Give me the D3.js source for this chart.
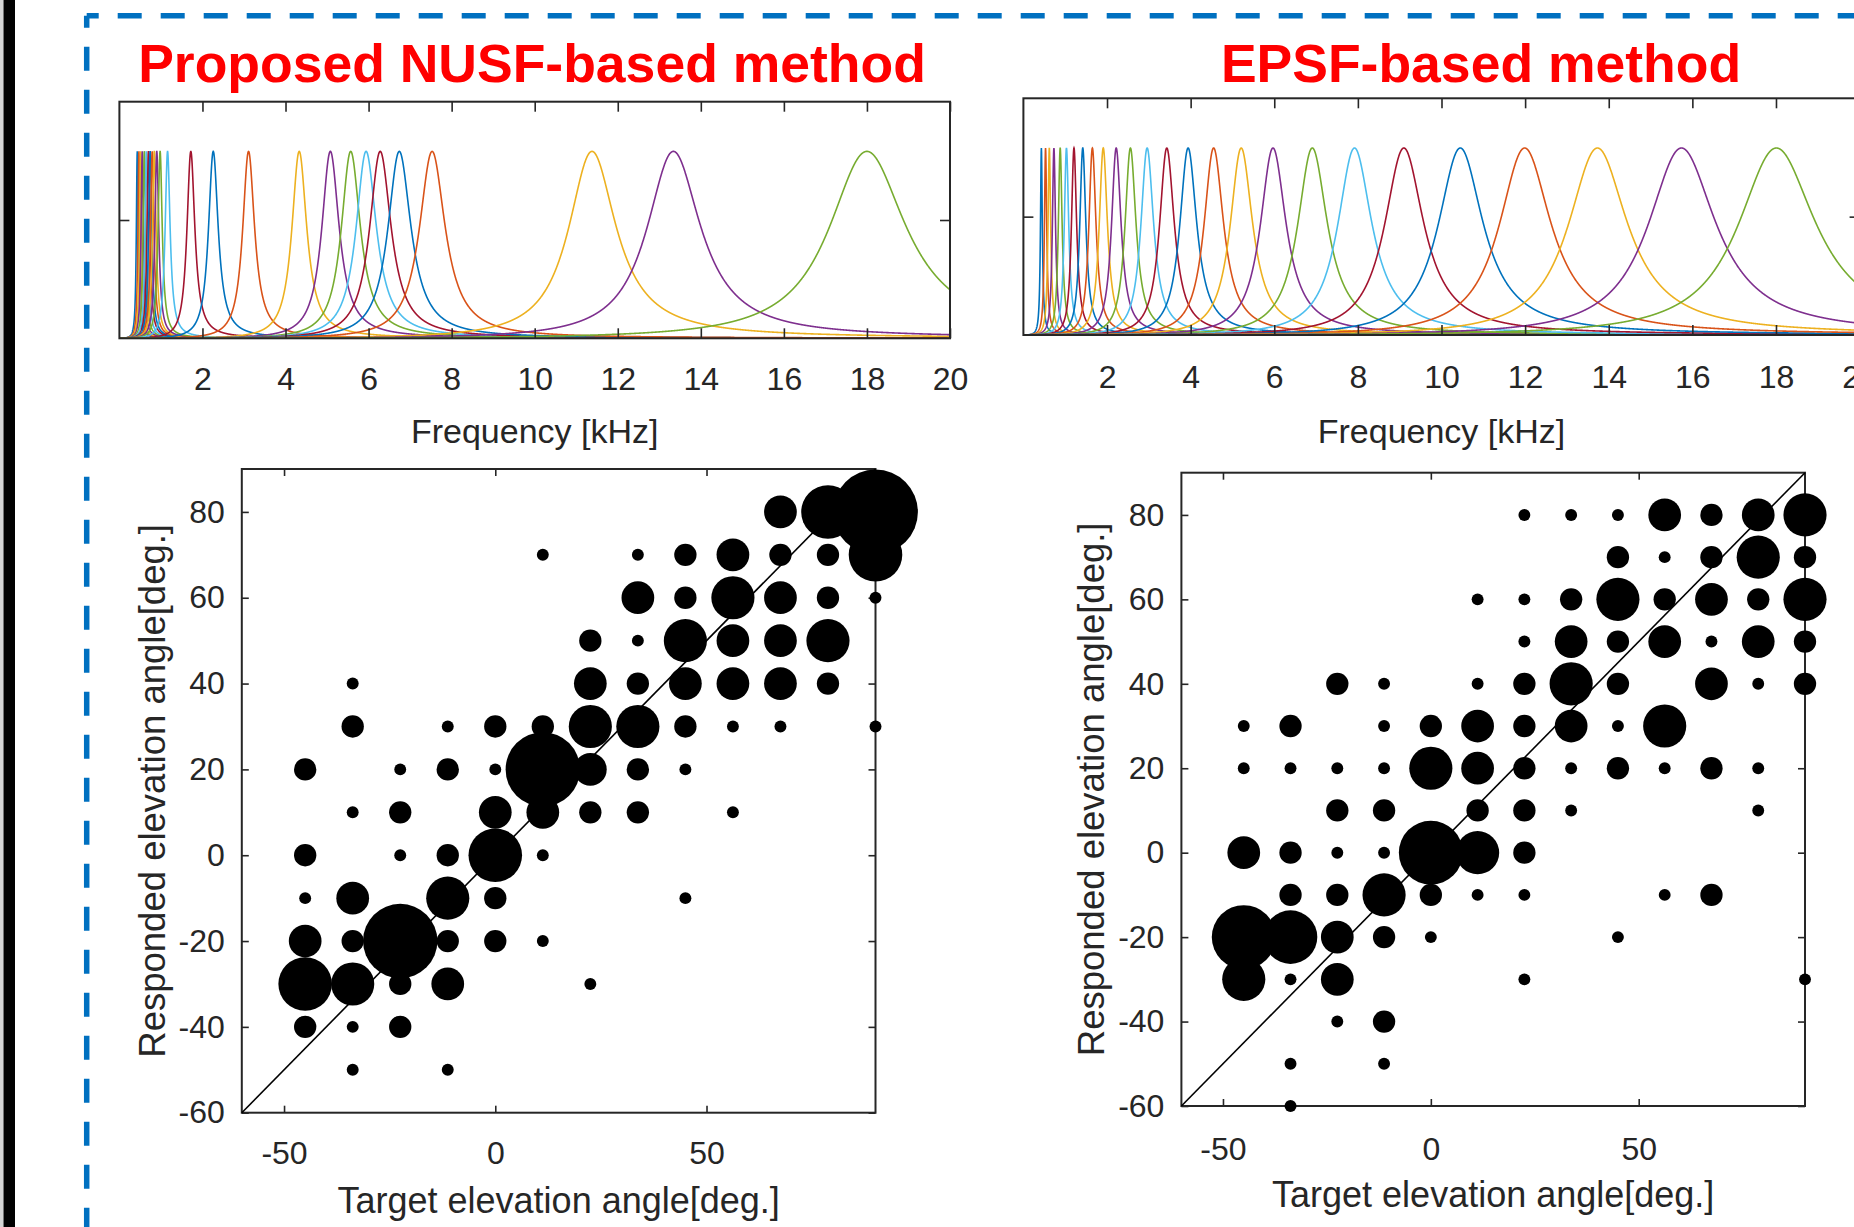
<!DOCTYPE html>
<html>
<head>
<meta charset="utf-8">
<script src="https://cdn.jsdelivr.net/npm/d3@7"></script>
<style>
  body { margin: 0; background: #fff; }
  svg { display: block; }
</style>
</head>
<body>
<svg id="chart"></svg>
<script>
// MATLAB default line colours, cycled over the filters
const colorOrder = ["#0072BD", "#D95319", "#EDB120", "#7E2F8E", "#77AC30", "#4DBEEE", "#A2142F"];

// centre frequencies [kHz] and Q of each filter
const nusfCenters = [0.43, 0.47, 0.51, 0.55, 0.60, 0.65, 0.70, 0.74, 0.79, 0.84, 0.90, 0.98, 1.16,
                     1.72, 2.26, 3.11, 4.33, 5.08, 5.57, 5.94, 6.28, 6.74, 7.53, 11.38, 13.34, 18.0];
const nusfQ = [8, 8, 8, 8, 8, 8, 8, 8, 8, 8, 8, 8, 8,
               7.5, 8, 9, 10, 10, 10, 10, 10, 10, 10, 8.2, 8.5, 8];
const epsfCenters = [0.43, 0.53, 0.62, 0.73, 0.88, 1.03, 1.21, 1.42, 1.65, 1.91, 2.22, 2.56, 2.96,
                     3.43, 3.94, 4.55, 5.21, 5.97, 6.91, 7.92, 9.10, 10.45, 11.99, 13.73, 15.74, 18.01];
const epsfQ = [8, 8, 8, 8, 8, 8, 8, 8, 8, 8, 8, 8, 8,
               8, 8, 8, 8, 8, 8, 8, 8, 8, 8, 8, 8, 8];
const peakLevel = 0.79;
const freqTicks = [2, 4, 6, 8, 10, 12, 14, 16, 18, 20];

// localisation test: number of answers per (target, response) cell
const targetAngles = [-45, -33.75, -22.5, -11.25, 0, 11.25, 22.5, 33.75, 45, 56.25, 67.5, 78.75, 90];
const responseAngles = [80, 70, 60, 50, 40, 30, 20, 10, 0, -10, -20, -30, -40, -50, -60];
const nusfCounts = [
  [0, 0, 0, 0, 0, 0, 0, 0, 0, 0, 3, 5, 8],
  [0, 0, 0, 0, 0, 1, 0, 1, 2, 3, 2, 2, 5],
  [0, 0, 0, 0, 0, 0, 0, 3, 2, 4, 3, 2, 1],
  [0, 0, 0, 0, 0, 0, 2, 1, 4, 3, 3, 4, 0],
  [0, 1, 0, 0, 0, 0, 3, 2, 3, 3, 3, 2, 0],
  [0, 2, 0, 1, 2, 2, 4, 4, 2, 1, 1, 0, 1],
  [2, 0, 1, 2, 1, 7, 3, 2, 1, 0, 0, 0, 0],
  [0, 1, 2, 0, 3, 3, 2, 2, 0, 1, 0, 0, 0],
  [2, 0, 1, 2, 5, 1, 0, 0, 0, 0, 0, 0, 0],
  [1, 3, 0, 4, 2, 0, 0, 0, 1, 0, 0, 0, 0],
  [3, 2, 7, 2, 2, 1, 0, 0, 0, 0, 0, 0, 0],
  [5, 4, 2, 3, 0, 0, 1, 0, 0, 0, 0, 0, 0],
  [2, 1, 2, 0, 0, 0, 0, 0, 0, 0, 0, 0, 0],
  [0, 1, 0, 1, 0, 0, 0, 0, 0, 0, 0, 0, 0],
  [0, 0, 0, 0, 0, 0, 0, 0, 0, 0, 0, 0, 0]
];
const epsfCounts = [
  [0, 0, 0, 0, 0, 0, 1, 1, 1, 3, 2, 3, 4],
  [0, 0, 0, 0, 0, 0, 0, 0, 2, 1, 2, 4, 2],
  [0, 0, 0, 0, 0, 1, 1, 2, 4, 2, 3, 2, 4],
  [0, 0, 0, 0, 0, 0, 1, 3, 2, 3, 1, 3, 2],
  [0, 0, 2, 1, 0, 1, 2, 4, 2, 0, 3, 1, 2],
  [1, 2, 0, 1, 2, 3, 2, 3, 1, 4, 0, 0, 0],
  [1, 1, 1, 1, 4, 3, 2, 1, 2, 1, 2, 1, 0],
  [0, 0, 2, 2, 0, 2, 2, 1, 0, 0, 0, 1, 0],
  [3, 2, 1, 1, 6, 4, 2, 0, 0, 0, 0, 0, 0],
  [0, 2, 2, 4, 2, 1, 1, 0, 0, 1, 2, 0, 0],
  [6, 5, 3, 2, 1, 0, 0, 0, 1, 0, 0, 0, 0],
  [4, 1, 3, 0, 0, 0, 1, 0, 0, 0, 0, 0, 1],
  [0, 0, 1, 2, 0, 0, 0, 0, 0, 0, 0, 0, 0],
  [0, 1, 0, 1, 0, 0, 0, 0, 0, 0, 0, 0, 0],
  [0, 1, 0, 0, 0, 0, 0, 0, 0, 0, 0, 0, 0]
];
const angleXTicks = [-50, 0, 50];
const angleYTicks = [-60, -40, -20, 0, 20, 40, 60, 80];

const W = 1854, H = 1227;
const font = "'Liberation Sans', Arial, Helvetica, sans-serif";
const axisColor = "#262626";
const plainNum = d => String(d); // hyphen minus like MATLAB, not U+2212

const svg = d3.select("#chart").attr("width", W).attr("height", H);
svg.append("rect").attr("width", W).attr("height", H).attr("fill", "#fff");

// page frame: grey edge, black bar, blue dashed border
svg.append("rect").attr("x", 0).attr("y", 0).attr("width", 3.5).attr("height", H).attr("fill", "#d4d4d4");
svg.append("rect").attr("x", 3.5).attr("y", 0).attr("width", 11.5).attr("height", H).attr("fill", "#000");
const dash = svg.append("g").attr("fill", "none").attr("stroke", "#0070C0")
  .attr("stroke-width", 5.5).attr("stroke-dasharray", "24 19").attr("stroke-dashoffset", 12);
dash.append("path").attr("d", `M86.7,15.8H${W}`);
dash.append("path").attr("d", `M86.7,15.8V${H}`);

// titles
svg.append("text").attr("x", 532).attr("y", 81.7).attr("text-anchor", "middle")
  .attr("font-family", font).attr("font-weight", "bold").attr("font-size", 53.5).attr("fill", "#FF0000")
  .text("Proposed NUSF-based method");
svg.append("text").attr("x", 1481).attr("y", 81.7).attr("text-anchor", "middle")
  .attr("font-family", font).attr("font-weight", "bold").attr("font-size", 53.5).attr("fill", "#FF0000")
  .text("EPSF-based method");

// response of one resonant band-pass filter
function response(f, fc, q) {
  if (f <= 0) return 0;
  const u = q * (f / fc - fc / f);
  return peakLevel / (1 + u * u);
}
const freqGrid = d3.range(0.002, 20.0001, 0.004);

function styleAxis(g, size) {
  g.attr("color", axisColor).attr("font-family", font).attr("font-size", size);
  g.select(".domain").remove();
  g.selectAll(".tick line").attr("stroke-width", 1.6);
}

function filterPanel(p) {
  const x = d3.scaleLinear().domain([0, 20]).range([p.left, p.right]);
  const y = d3.scaleLinear().domain([0, 1]).range([p.bottom, p.top]);
  const g = svg.append("g");

  g.append("clipPath").attr("id", "clip-" + p.id).append("rect")
    .attr("x", p.left).attr("y", p.top).attr("width", p.right - p.left).attr("height", p.bottom - p.top);

  const line = d3.line().x(d => x(d[0])).y(d => y(d[1]));
  const curves = g.append("g").attr("clip-path", `url(#clip-${p.id})`);
  p.centers.forEach((fc, i) => {
    const pts = freqGrid.map(f => [f, response(f, fc, p.q[i])]);
    curves.append("path").attr("d", line(pts)).attr("fill", "none")
      .attr("stroke", colorOrder[i % colorOrder.length]).attr("stroke-width", 1.6);
  });

  const bottom = g.append("g").attr("transform", `translate(0,${p.bottom})`)
    .call(d3.axisBottom(x).tickValues(freqTicks).tickSize(-10).tickSizeOuter(0).tickFormat(plainNum));
  styleAxis(bottom, 32);
  bottom.selectAll(".tick text").attr("y", p.tickBase).attr("dy", null);

  const top = g.append("g").attr("transform", `translate(0,${p.top})`)
    .call(d3.axisTop(x).tickValues(freqTicks).tickSize(-10).tickFormat(""));
  styleAxis(top, 32);
  const left = g.append("g").attr("transform", `translate(${p.left},0)`)
    .call(d3.axisLeft(y).tickValues([0.5]).tickSize(-10).tickFormat(""));
  styleAxis(left, 32);
  const right = g.append("g").attr("transform", `translate(${p.right},0)`)
    .call(d3.axisRight(y).tickValues([0.5]).tickSize(-10).tickFormat(""));
  styleAxis(right, 32);

  g.append("rect").attr("x", p.left).attr("y", p.top)
    .attr("width", p.right - p.left).attr("height", p.bottom - p.top)
    .attr("fill", "none").attr("stroke", axisColor).attr("stroke-width", 2);

  g.append("text").attr("x", (p.left + p.right) / 2).attr("y", p.bottom + p.labelBase)
    .attr("text-anchor", "middle").attr("font-family", font).attr("font-size", 34)
    .attr("fill", axisColor).text("Frequency [kHz]");
}

function scatterPanel(p) {
  const x = d3.scaleLinear().domain([-60, 90]).range([p.left, p.right]);
  const y = d3.scaleLinear().domain([-60, 90]).range([p.bottom, p.top]);
  const r = d3.scaleLinear().domain([0, 8]).range([0.75, 42.4]);
  const g = svg.append("g");

  const bottom = g.append("g").attr("transform", `translate(0,${p.bottom})`)
    .call(d3.axisBottom(x).tickValues(angleXTicks).tickSize(-7).tickSizeOuter(0).tickFormat(plainNum));
  styleAxis(bottom, 32);
  bottom.selectAll(".tick text").attr("y", p.tickBase).attr("dy", null);

  const left = g.append("g").attr("transform", `translate(${p.left},0)`)
    .call(d3.axisLeft(y).tickValues(angleYTicks).tickSize(-7).tickPadding(17).tickFormat(plainNum));
  styleAxis(left, 32);

  const top = g.append("g").attr("transform", `translate(0,${p.top})`)
    .call(d3.axisTop(x).tickValues(angleXTicks).tickSize(-7).tickFormat(""));
  styleAxis(top, 32);
  const right = g.append("g").attr("transform", `translate(${p.right},0)`)
    .call(d3.axisRight(y).tickValues(angleYTicks).tickSize(-7).tickFormat(""));
  styleAxis(right, 32);

  g.append("rect").attr("x", p.left).attr("y", p.top)
    .attr("width", p.right - p.left).attr("height", p.bottom - p.top)
    .attr("fill", "none").attr("stroke", axisColor).attr("stroke-width", 2);

  // ideal answer line
  g.append("line").attr("x1", x(-60)).attr("y1", y(-60)).attr("x2", x(90)).attr("y2", y(90))
    .attr("stroke", "#000").attr("stroke-width", 1.6);

  const cells = [];
  responseAngles.forEach((resp, ri) => {
    targetAngles.forEach((tgt, ci) => {
      const n = p.counts[ri][ci];
      if (n > 0) cells.push({ tgt, resp, n });
    });
  });
  g.selectAll("circle.cell").data(cells).enter().append("circle")
    .attr("class", "cell")
    .attr("cx", d => x(d.tgt)).attr("cy", d => y(d.resp)).attr("r", d => r(d.n))
    .attr("fill", "#000");

  g.append("text").attr("x", (p.left + p.right) / 2).attr("y", p.bottom + p.labelBase)
    .attr("text-anchor", "middle").attr("font-family", font).attr("font-size", 36)
    .attr("fill", axisColor).text("Target elevation angle[deg.]");
  g.append("text")
    .attr("transform", `translate(${p.left - 77},${(p.top + p.bottom) / 2}) rotate(-90)`)
    .attr("text-anchor", "middle").attr("font-family", font).attr("font-size", 36.5)
    .attr("fill", axisColor).text("Responded elevation angle[deg.]");
}

filterPanel({ id: "nusf", left: 119.4, right: 950, top: 101.7, bottom: 338.3,
  centers: nusfCenters, q: nusfQ, tickBase: 52, labelBase: 105 });
filterPanel({ id: "epsf", left: 1023.4, right: 1859.6, top: 98.3, bottom: 335,
  centers: epsfCenters, q: epsfQ, tickBase: 53, labelBase: 108 });

scatterPanel({ left: 241.8, right: 875.5, top: 469, bottom: 1112.7,
  counts: nusfCounts, tickBase: 51, labelBase: 100.5 });
scatterPanel({ left: 1181.4, right: 1805, top: 472.7, bottom: 1106,
  counts: epsfCounts, tickBase: 54, labelBase: 100.7 });
</script>
</body>
</html>
